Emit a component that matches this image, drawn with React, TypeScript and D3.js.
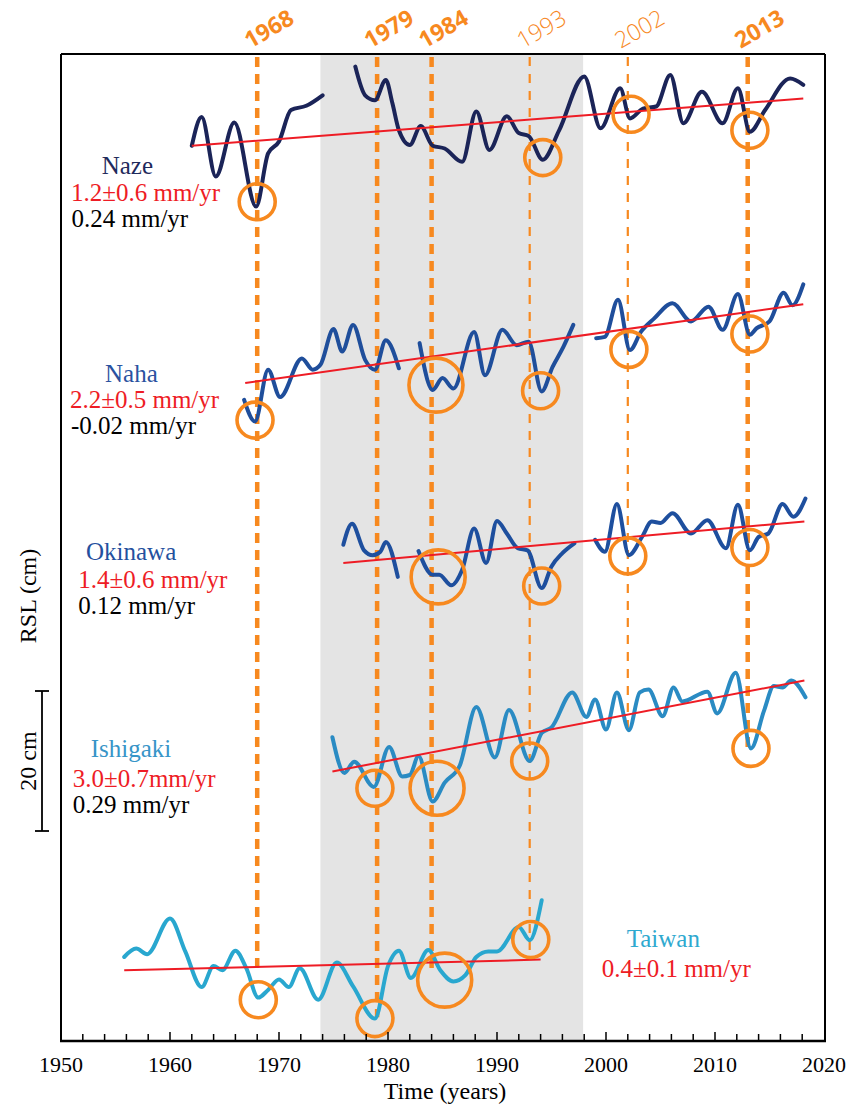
import React from "react";
import * as d3 from "d3";

// ---------- DATA ----------
const xTicks = [1950, 1960, 1970, 1980, 1990, 2000, 2010, 2020];
const eventYears = [1968, 1979, 1984, 1993, 2002, 2013];
const eventBold = [true, true, true, false, false, true];
const eventLineEnd = [10.4, 3.4, 9.7, 12.7, 44.4, 42.0]; // cm (stacked scale) where each dashed line stops
const shadeYears = [1973.8, 1997.9];

const stationNames = ["Naze", "Naha", "Okinawa", "Ishigaki", "Taiwan"];
const stationOffsets = [125, 95, 68, 42, 12]; // cm, vertical stacking
const trendRates = [1.2, 2.2, 1.4, 3.0, 0.4]; // mm/yr
const trendErrors = [0.6, 0.5, 0.6, 0.7, 0.1];
const secondRates = ["0.24", "-0.02", "0.12", "0.29", ""];
const trendStart = [1962.0, 1966.9, 1975.9, 1974.9, 1955.8];
const trendEnd = [2018.1, 2018.1, 2018.2, 2018.2, 1994.0];
const trendStartValue = [2.9, -1.0, 0.3, -3.5, -1.9];

const nazeData: [number, number][][] = [
  [[1962.0, 2.9], [1962.9, 7.0], [1964.2, -1.5], [1965.9, 6.2], [1967.9, -5.8], [1969.0, 1.8],
   [1970.0, 3.5], [1971.1, 8.0], [1972.5, 8.6], [1974.0, 10.1]],
  [[1977.0, 14.2], [1977.9, 10.1], [1978.8, 9.4], [1979.8, 12.3], [1980.4, 9.0], [1981.0, 5.1],
   [1982.0, 3.0], [1983.0, 5.7], [1984.1, 2.9], [1985.2, 2.5], [1986.8, 0.6], [1988.1, 7.8],
   [1989.3, 2.3], [1990.9, 7.1], [1992.0, 4.7], [1992.9, 4.3], [1994.2, 0.9], [1995.7, 5.1],
   [1998.0, 12.8], [1999.5, 5.4], [2001.3, 11.1], [2002.2, 6.8], [2003.4, 8.2], [2004.6, 8.5],
   [2005.9, 13.0], [2007.1, 6.1], [2008.8, 10.6], [2010.7, 6.1], [2012.1, 11.1], [2013.2, 4.9],
   [2014.6, 8.0], [2016.9, 12.5], [2018.1, 11.6]],
];

const nahaData: [number, number][][] = [
  [[1966.8, -3.4], [1967.8, -6.5], [1969.0, 0.9], [1970.1, -3.0], [1972.1, 2.5], [1973.1, 0.9],
   [1973.8, 1.6], [1975.0, 6.7], [1975.8, 3.5], [1976.8, 7.3], [1977.9, 2.3], [1978.8, 0.9],
   [1979.8, 5.1], [1981.0, 1.1]],
  [[1982.9, 4.7], [1984.1, -2.0], [1985.0, -0.3], [1986.0, -1.8], [1987.9, 6.3], [1988.9, 0.1],
   [1990.5, 6.6], [1991.8, 4.4], [1992.9, 4.9], [1994.1, -2.2], [1995.1, 1.3], [1996.1, 4.2],
   [1997.0, 7.3]],
  [[1999.1, 5.4], [1999.9, 5.6], [2001.1, 10.9], [2002.2, 3.7], [2003.2, 6.3], [2004.4, 8.2],
   [2006.1, 10.4], [2007.8, 7.8], [2009.4, 9.9], [2010.7, 6.6], [2012.1, 11.7], [2013.2, 5.9],
   [2013.8, 6.8], [2015.0, 7.8], [2016.3, 11.9], [2017.1, 10.1], [2018.1, 13.1]],
];

const okinawaData: [number, number][][] = [
  [[1975.9, 2.9], [1976.7, 5.9], [1977.8, 2.1], [1978.6, 1.4], [1979.3, 1.9], [1979.8, 3.3],
   [1980.9, -1.7]],
  [[1982.8, 2.0], [1984.1, -1.4], [1984.7, -1.4], [1985.8, -2.9], [1986.8, -0.7], [1987.9, 5.2],
   [1989.0, 0.3], [1990.0, 6.3], [1990.9, 4.5], [1991.9, 2.4], [1992.8, 2.1], [1994.1, -3.3],
   [1995.0, -0.2], [1996.0, 1.7], [1997.1, 3.1]],
  [[1999.0, 3.6], [1999.9, 1.9], [2001.0, 8.7], [2002.1, 1.4], [2003.3, 4.0], [2004.2, 6.2],
   [2005.0, 6.0], [2006.1, 7.4], [2007.8, 4.5], [2009.3, 6.4], [2011.0, 2.4], [2012.1, 8.6],
   [2013.2, 2.1], [2014.0, 4.0], [2014.9, 4.5], [2016.2, 8.7], [2017.2, 6.9], [2018.3, 9.5]],
];

const ishigakiData: [number, number][][] = [
  [[1974.9, 1.4], [1976.0, -3.7], [1976.9, -2.1], [1978.7, -5.7], [1980.1, 0.0], [1981.3, -4.2],
   [1982.0, -4.0], [1982.8, -1.3], [1984.1, -7.8], [1985.2, -5.1], [1986.6, -2.6], [1988.1, 5.7],
   [1989.8, -1.5], [1991.1, 5.3], [1993.0, -2.0], [1994.1, 2.0], [1995.0, 2.8], [1996.9, 7.8],
   [1998.2, 4.3], [1999.0, 6.8], [2000.0, 2.5], [2001.0, 7.8], [2002.1, 2.4], [2003.1, 7.8],
   [2003.9, 8.2], [2005.2, 4.4], [2006.2, 8.5], [2007.0, 6.5], [2009.3, 7.9], [2010.2, 4.8],
   [2011.9, 10.6], [2013.3, -0.2], [2014.5, 5.2], [2015.4, 8.7], [2016.2, 8.5], [2017.0, 9.5],
   [2018.3, 7.1]],
];

const taiwanData: [number, number][][] = [
  [[1955.8, 0.0], [1956.9, 1.2], [1957.9, 0.4], [1960.0, 5.5], [1961.4, 0.8], [1962.9, -4.3],
   [1964.0, -1.3], [1964.8, -1.9], [1966.0, 0.9], [1967.0, -1.6], [1968.1, -5.8], [1969.0, -4.7],
   [1970.0, -3.2], [1970.9, -4.3], [1971.9, -1.6], [1973.6, -6.1], [1975.3, -0.8], [1976.8, -4.2],
   [1978.8, -8.8], [1980.0, -1.3], [1981.0, 0.9], [1982.1, -3.0], [1983.7, 1.0], [1984.8, -1.9],
   [1986.0, -3.5], [1987.1, -2.6], [1988.1, 0.0], [1989.2, 0.8], [1990.0, 0.8], [1992.0, 4.3],
   [1993.0, 2.4], [1994.1, 8.1]],
];

const stationData = [nazeData, nahaData, okinawaData, ishigakiData, taiwanData];

// event circles: [year, value] per station
const nazeEvents: [number, number][] = [[1968.0, -5.1], [1994.2, 1.2], [2002.3, 7.4], [2013.2, 5.1]];
const nahaEvents: [number, number][] = [[1967.8, -6.3], [1984.4, -1.3], [1994.0, -2.1], [2002.1, 3.8], [2013.2, 6.0]];
const okinawaEvents: [number, number][] = [[1984.6, -1.7], [1994.1, -3.0], [2002.0, 1.3], [2013.2, 2.5]];
const ishigakiEvents: [number, number][] = [[1978.8, -5.9], [1984.5, -5.9], [1993.0, -2.0], [2013.3, -0.2]];
const taiwanEvents: [number, number][] = [[1968.1, -6.1], [1978.8, -8.8], [1985.2, -3.3], [1993.1, 2.5]];
const stationEvents = [nazeEvents, nahaEvents, okinawaEvents, ishigakiEvents, taiwanEvents];

// ---------- STYLE ----------
const W = 857;
const H = 1106;
const X0 = 61, X1 = 824, Y0 = 54, Y1 = 1041;
const FRAME_RIGHT = 825;
const ORANGE = "#f7891f";
const RED = "#ee1c25";
const lineColors = ["#1b2458", "#1f4e9b", "#1e4f9e", "#2a8bc3", "#29a7cf"];
const labelColors = ["#1f2a5c", "#2a52a0", "#24509e", "#3795c8", "#2fa9cf"];
const SERIF = "'Liberation Serif', 'Times New Roman', serif";
const SANS = "'Open Sans', 'Noto Sans', sans-serif";

// label placement (x of name, x of rates, baselines)
const labelPos = [
  { nx: 101.7, ny: 174.3, rx: 71, ry: 201, sx: 71.5, sy: 226.5 },
  { nx: 105, ny: 381.7, rx: 70, ry: 407.7, sx: 71, sy: 434 },
  { nx: 86, ny: 560, rx: 78.3, ry: 587.7, sx: 78.3, sy: 614.3 },
  { nx: 90.7, ny: 757.3, rx: 72.7, ry: 786.7, sx: 72.7, sy: 813 },
  { nx: 626.7, ny: 946.7, rx: 601.7, ry: 976.7, sx: 0, sy: 0 },
];

export default function App() {
  const x = d3.scaleLinear().domain([1950, 2020]).range([X0, X1]);
  const y = d3.scaleLinear().domain([0, (Y1 - Y0) / 7]).range([Y1, Y0]);

  const minorTicks = d3.range(1952, 2020, 2);

  return (
    <svg width={W} height={H} style={{ position: "absolute", left: 0, top: 0, background: "#fff" }}>
      {/* shaded interval */}
      <rect x={x(shadeYears[0])} y={Y0} width={x(shadeYears[1]) - x(shadeYears[0])} height={Y1 - Y0} fill="#e4e4e4" />

      {/* dashed event lines */}
      {eventYears.map((yr, i) => (
        <line key={"ev" + yr} x1={x(yr)} x2={x(yr)} y1={Y0 + 3} y2={y(eventLineEnd[i])}
          stroke={ORANGE} strokeWidth={eventBold[i] ? 4.5 : 2.2} strokeDasharray={eventBold[i] ? "10 7" : "9 8"} />
      ))}

      {/* series */}
      {stationData.map((segs, si) => {
        const off = stationOffsets[si];
        const line = d3.line<[number, number]>()
          .x((d) => x(d[0]))
          .y((d) => y(d[1] + off))
          .curve(d3.curveMonotoneX);
        return (
          <g key={"s" + si}>
            {segs.map((seg, k) => (
              <path key={k} d={line(seg) || ""} fill="none" stroke={lineColors[si]} strokeWidth={4}
                strokeLinecap="round" strokeLinejoin="round" />
            ))}
          </g>
        );
      })}

      {/* trend lines */}
      {stationNames.map((nm, si) => {
        const off = stationOffsets[si];
        const v0 = trendStartValue[si];
        const v1 = v0 + (trendEnd[si] - trendStart[si]) * trendRates[si] / 10;
        return (
          <line key={"t" + nm} x1={x(trendStart[si])} y1={y(v0 + off)} x2={x(trendEnd[si])} y2={y(v1 + off)}
            stroke={RED} strokeWidth={2} />
        );
      })}

      {/* event circles */}
      {stationEvents.map((evs, si) =>
        evs.map((e, k) => (
          <circle key={"c" + si + "-" + k} cx={x(e[0])} cy={y(e[1] + stationOffsets[si])}
            r={Math.round(e[0]) >= 1984 && Math.round(e[0]) <= 1985 ? 27 : 18}
            fill="none" stroke={ORANGE} strokeWidth={3.6} />
        ))
      )}

      {/* frame */}
      <line x1={X0} x2={X0} y1={Y0} y2={Y1} stroke="#000" strokeWidth={2} />
      <line x1={X0} x2={FRAME_RIGHT} y1={Y0} y2={Y0} stroke="#000" strokeWidth={2} />
      <line x1={FRAME_RIGHT} x2={FRAME_RIGHT} y1={Y0} y2={Y1} stroke="#000" strokeWidth={2} />
      <line x1={X0 - 1} x2={FRAME_RIGHT + 1} y1={Y1} y2={Y1} stroke="#000" strokeWidth={2.5} />

      {/* ticks */}
      {minorTicks.map((t) => (
        <line key={"mt" + t} x1={x(t)} x2={x(t)} y1={Y1} y2={Y1 - (t % 10 === 0 ? 9 : 7)} stroke="#000" strokeWidth={1.5} />
      ))}
      {xTicks.map((t) => (
        <text key={"xl" + t} x={x(t)} y={1072} textAnchor="middle" fontFamily={SERIF} fontSize={22} fill="#000">{t}</text>
      ))}
      <text x={445} y={1099} textAnchor="middle" fontFamily={SERIF} fontSize={24} fill="#000">Time (years)</text>

      {/* event year labels */}
      {eventYears.map((yr, i) => {
        const tx = x(yr) - 7;
        const ty = 49;
        return (
          <text key={"el" + yr} x={tx} y={ty} transform={`rotate(-30 ${tx} ${ty})`} fontFamily={SANS}
            fontSize={23} fontWeight={eventBold[i] ? 700 : 300} fill={ORANGE}>{yr}</text>
        );
      })}

      {/* y label + scale bar */}
      <text transform={`translate(36 596) rotate(-90)`} textAnchor="middle" fontFamily={SERIF} fontSize={24} fill="#000">RSL (cm)</text>
      <line x1={42} x2={42} y1={y(50)} y2={y(30)} stroke="#000" strokeWidth={1.8} />
      <line x1={35} x2={49} y1={y(50)} y2={y(50)} stroke="#000" strokeWidth={1.8} />
      <line x1={35} x2={49} y1={y(30)} y2={y(30)} stroke="#000" strokeWidth={1.8} />
      <text transform={`translate(36 ${y(40)}) rotate(-90)`} textAnchor="middle" fontFamily={SERIF} fontSize={24} fill="#000">20 cm</text>

      {/* station labels */}
      {stationNames.map((nm, si) => {
        const p = labelPos[si];
        const rateTxt = si === 3
          ? `${trendRates[si].toFixed(1)}±${trendErrors[si].toFixed(1)}mm/yr`
          : `${trendRates[si].toFixed(1)}±${trendErrors[si].toFixed(1)} mm/yr`;
        return (
          <g key={"lab" + nm} fontFamily={SERIF} fontSize={25}>
            <text x={p.nx} y={p.ny} fill={labelColors[si]}>{nm}</text>
            <text x={p.rx} y={p.ry} fill={RED}>{rateTxt}</text>
            {secondRates[si] !== "" && (
              <text x={p.sx} y={p.sy} fill="#000">{`${secondRates[si]} mm/yr`}</text>
            )}
          </g>
        );
      })}
    </svg>
  );
}
